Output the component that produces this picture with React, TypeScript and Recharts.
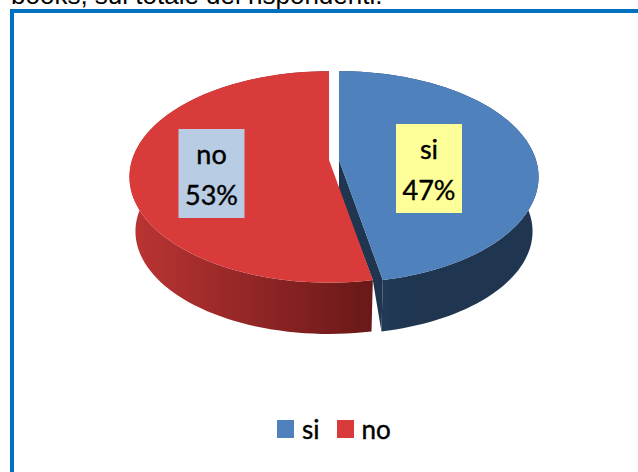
import { PieChart, Pie, Legend } from 'recharts';

const categories = ['si', 'no'];
const shares = [47, 53];
const faceColors = ['#4F81BD', '#D93B3B'];
const labelBoxColors = ['#FFFF99', '#B8CCE4'];

const chartData = categories.map((name, i) => ({
  name,
  value: shares[i],
  fill: faceColors[i],
  boxFill: labelBoxColors[i],
}));

// label box centres relative to the pie centre
const labelOffsets: Record<string, { dx: number; dy: number }> = {
  si: { dx: 95, dy: 9 },
  no: { dx: -122.5, dy: 14 },
};

const SQUASH = 0.523; // vertical foreshortening of the disc
const PERSPECTIVE = 0.16; // front of the disc is closer than the back
const EXPLODE_X = 5;
const DEPTH = 55;
const BOTTOM_SCALE = 0.97;

// angle in recharts degrees -> point on the tilted disc, relative to its apex
function rimPoint(angle: number, radius: number) {
  const rad = ((90 - angle) * Math.PI) / 180;
  const u = Math.sin(rad);
  const v = -Math.cos(rad);
  const w = 1 - PERSPECTIVE * v;
  return { x: (radius * u) / w, y: (radius * SQUASH * v) / w };
}

function toPath(points: { x: number; y: number }[]) {
  return points.map((p, i) => `${i === 0 ? 'M' : 'L'}${p.x.toFixed(2)},${p.y.toFixed(2)}`).join(' ') + ' Z';
}

function Slice3D(props: any) {
  const { cx, cy, outerRadius, startAngle, endAngle, fill, name } = props;
  const mid = (startAngle + endAngle) / 2;
  const midRad = ((90 - mid) * Math.PI) / 180;
  const ox = cx + Math.sin(midRad) * EXPLODE_X;
  const oy = cy;

  const steps = 90;
  const top: { x: number; y: number }[] = [];
  for (let i = 0; i <= steps; i++) {
    const p = rimPoint(startAngle + ((endAngle - startAngle) * i) / steps, outerRadius);
    top.push({ x: ox + p.x, y: oy + p.y });
  }
  const lowered = (p: { x: number; y: number }) => ({
    x: ox + (p.x - ox) * BOTTOM_SCALE,
    y: oy + (p.y - oy) * BOTTOM_SCALE + DEPTH,
  });
  const bottom = top.map(lowered);
  const wall = [...top, ...[...bottom].reverse()];
  const apex = { x: ox, y: oy };

  const isYes = name === 'si';
  // inner cut face of the blue slice, its lower part ends up behind the red slice
  const cutCorner = top[top.length - 1];
  const cut = [
    apex,
    cutCorner,
    lowered(cutCorner),
    { x: cutCorner.x - 10, y: cutCorner.y },
    { x: ox, y: oy + 30 },
  ];

  return (
    <g>
      <path d={toPath(wall)} fill={isYes ? 'url(#wallBlue)' : 'url(#wallRed)'} />
      {isYes && <path d={toPath(cut)} fill="#1F3550" />}
      <path d={toPath([apex, ...top])} fill={fill} />
    </g>
  );
}

function SliceLabel(props: any) {
  const { cx, cy, name, percent, payload } = props;
  const offset = labelOffsets[name];
  const x = cx + offset.dx;
  const y = cy + offset.dy;
  const textStyle = { fontFamily: 'Lato', fontSize: 27, fill: '#000', stroke: '#000', strokeWidth: 0.4 };
  return (
    <g>
      <rect x={x - 33} y={y - 45} width={66} height={89} fill={payload.boxFill} />
      <text x={x} y={y - 10} textAnchor="middle" style={textStyle}>
        {name}
      </text>
      <text x={x} y={y + 31} textAnchor="middle" style={textStyle}>
        {`${Math.round(percent * 100)}%`}
      </text>
    </g>
  );
}

function LegendRow({ payload }: any) {
  return (
    <div style={{ display: 'flex', alignItems: 'center', fontFamily: 'Lato', fontSize: 26, color: '#000', WebkitTextStroke: '0.4px #000' }}>
      {(payload ?? []).map((entry: any) => (
        <span key={entry.value} style={{ display: 'flex', alignItems: 'center', marginRight: 17 }}>
          <span style={{ width: 17, height: 18, background: entry.color, marginRight: 8 }} />
          {entry.value}
        </span>
      ))}
    </div>
  );
}

export default function App() {
  return (
    <div style={{ position: 'absolute', left: 0, top: 0, width: 638, height: 472, overflow: 'hidden', background: '#fff' }}>
      <div
        style={{
          position: 'absolute',
          left: 11,
          top: -19,
          fontFamily: '"Liberation Sans"',
          fontSize: 26,
          lineHeight: '28px',
          whiteSpace: 'nowrap',
          color: '#000',
        }}
      >
        books, sul totale dei rispondenti.
      </div>
      <div
        style={{
          position: 'absolute',
          left: 10,
          top: 9,
          width: 700,
          height: 600,
          border: '4px solid #0070C0',
          boxSizing: 'border-box',
        }}
      />
      <div style={{ position: 'absolute', left: 0, top: 0 }}>
        <PieChart width={638} height={472} margin={{ top: 0, right: 0, bottom: 0, left: 0 }}>
          <defs>
            <linearGradient id="wallRed" x1="0" y1="0" x2="1" y2="0">
              <stop offset="0%" stopColor="#BC3434" />
              <stop offset="100%" stopColor="#691818" />
            </linearGradient>
            <linearGradient id="wallBlue" x1="0" y1="0" x2="1" y2="0">
              <stop offset="0%" stopColor="#264365" />
              <stop offset="35%" stopColor="#1F3550" />
              <stop offset="100%" stopColor="#1F3550" />
            </linearGradient>
          </defs>
          <Pie
            data={chartData}
            dataKey="value"
            nameKey="name"
            cx={334}
            cy={160}
            outerRadius={197}
            startAngle={90}
            endAngle={-270}
            stroke="none"
            isAnimationActive={false}
            shape={Slice3D}
            label={SliceLabel}
            labelLine={false}
          />
          <Legend
            content={<LegendRow />}
            itemSorter={null}
            wrapperStyle={{ position: 'absolute', left: 277, top: 413, width: 'auto', bottom: 'auto' }}
          />
        </PieChart>
      </div>
    </div>
  );
}
